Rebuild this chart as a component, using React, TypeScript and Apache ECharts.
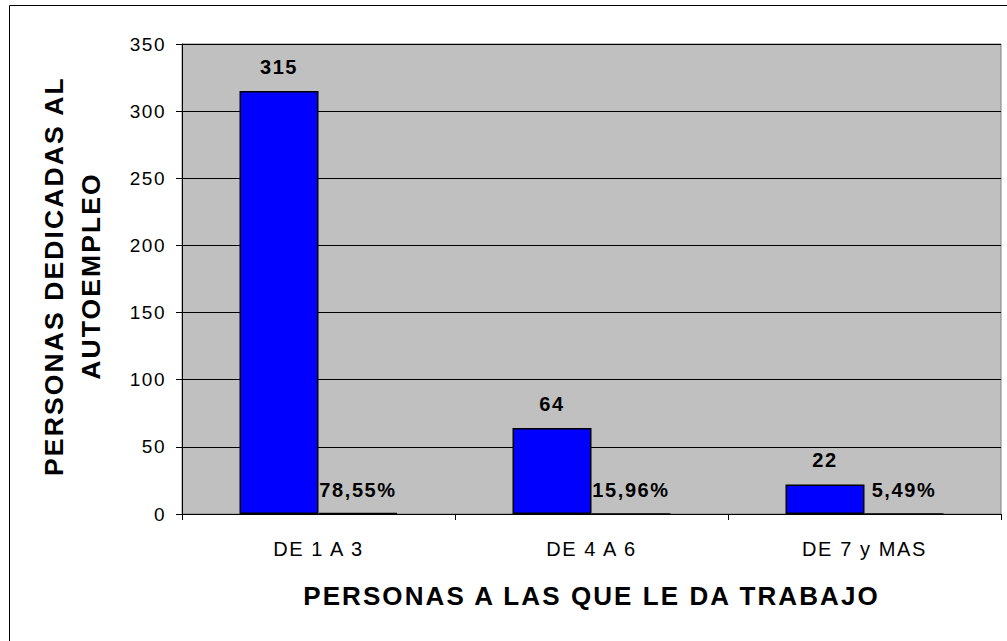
import React, { useEffect, useRef } from "react";
import * as echarts from "echarts";

const categories = ["DE 1 A 3", "DE 4 A 6", "DE 7 y MAS"];
const personas = [315, 64, 22];
const porcentajes = [78.55, 15.96, 5.49];
const yTicks = { min: 0, max: 350, interval: 50 };
const xTitle = "PERSONAS A LAS QUE LE DA TRABAJO";
const yTitleLines = ["PERSONAS DEDICADAS AL", "AUTOEMPLEO"];

const FONT = "'Liberation Sans', Arial, sans-serif";

export default function App() {
  const ref = useRef<HTMLDivElement>(null);
  useEffect(() => {
    if (!ref.current) return;
    const chart = echarts.init(ref.current, undefined, { renderer: "svg" });
    const pctValues = porcentajes.map((p) => p / 100);
    chart.setOption({
      animation: false,
      backgroundColor: "#ffffff",
      textStyle: { fontFamily: FONT },
      grid: {
        left: 182,
        top: 44,
        right: 6,
        bottom: 127,
        show: true,
        backgroundColor: "#c0c0c0",
        borderColor: "#808080",
        borderWidth: 1,
      },
      graphic: [
        {
          type: "rect",
          shape: { x: 9.5, y: 5.5, width: 1200, height: 1000 },
          style: { fill: "none", stroke: "#000000", lineWidth: 1 },
          z: 100,
        },
        {
          type: "text",
          x: 72,
          y: 276,
          rotation: Math.PI / 2,
          style: {
            text: yTitleLines.join("\n"),
            font: `bold 26.5px ${FONT}`,
            fill: "#000000",
            align: "center",
            verticalAlign: "middle",
            lineHeight: 37,
          },
        },
      ],
      xAxis: {
        type: "category",
        data: categories,
        name: xTitle,
        nameLocation: "middle",
        nameGap: 69,
        nameTextStyle: { fontSize: 26, fontWeight: "bold", color: "#000", fontFamily: FONT },
        axisLine: { lineStyle: { color: "#000", width: 1 } },
        axisTick: { show: true, length: 6, lineStyle: { color: "#000" }, alignWithLabel: false },
        axisLabel: { color: "#000", fontSize: 20, margin: 25, fontFamily: FONT },
        splitLine: { show: false },
      },
      yAxis: {
        type: "value",
        min: yTicks.min,
        max: yTicks.max,
        interval: yTicks.interval,
        axisLine: { show: true, lineStyle: { color: "#000", width: 1 } },
        axisTick: { show: true, length: 6, lineStyle: { color: "#000" } },
        axisLabel: { color: "#000", fontSize: 19, margin: 16, fontFamily: FONT },
        splitLine: { show: true, lineStyle: { color: "#000", width: 1 } },
      },
      series: [
        {
          type: "bar",
          data: personas,
          barWidth: 79,
          barGap: "0%",
          itemStyle: { color: "#0000ff", borderColor: "#000", borderWidth: 1.5 },
          label: {
            show: true,
            position: "top",
            distance: 14,
            color: "#000",
            fontSize: 20,
            fontWeight: "bold",
            fontFamily: FONT,
          },
        },
        {
          type: "bar",
          data: pctValues,
          barWidth: 79,
          barGap: "0%",
          itemStyle: { color: "#000", borderColor: "#000", borderWidth: 1.5 },
          label: {
            show: true,
            position: "top",
            distance: 13,
            color: "#000",
            fontSize: 20,
            fontWeight: "bold",
            fontFamily: FONT,
            formatter: (p: any) => (p.value * 100).toFixed(2).replace(".", ",") + "%",
          },
        },
      ],
    });
    return () => chart.dispose();
  }, []);
  return (
    <>
      <style>{".chartbox text { letter-spacing: 0.08em; }"}</style>
      <div
        ref={ref}
        className="chartbox"
        style={{ position: "fixed", left: 0, top: 0, width: 1007, height: 641 }}
      />
    </>
  );
}
